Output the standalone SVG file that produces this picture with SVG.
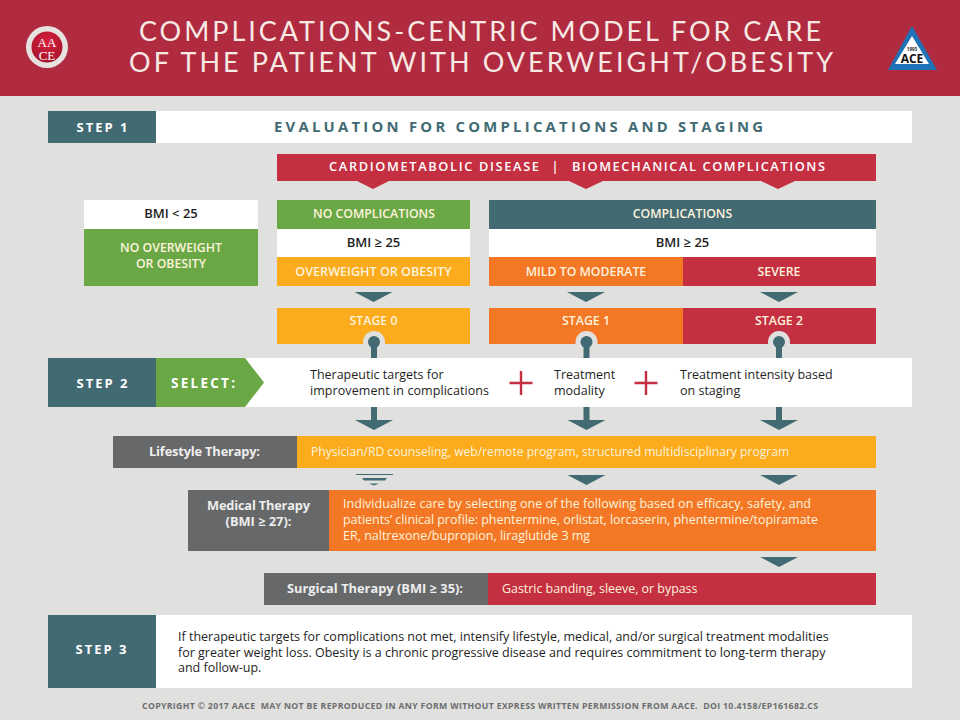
<svg xmlns="http://www.w3.org/2000/svg" width="960" height="720" viewBox="0 0 960 720">
<style>
text{font-family:"Open Sans","Noto Sans","Liberation Sans",sans-serif}
.w{fill:#fff}.teal{fill:#416a73}.green{fill:#6aa845}.amber{fill:#fbab1c}.orange{fill:#f47726}.red{fill:#c42f42}.gray{fill:#67686a}
.t{text-anchor:middle;font-size:12.300px;font-weight:600}
.lt{fill:#fdf3dc}
.k{fill:#1e1e1e;font-size:12.500px}
.step{fill:#fff;font-size:13px;font-weight:700;text-anchor:middle;letter-spacing:2px}
.title{font-family:Lato,"Open Sans",sans-serif;font-size:27px;fill:#f7e9e4;text-anchor:middle;font-weight:400}
.tg{fill:#eee;font-size:12.800px;font-weight:700}
.pre{white-space:pre}
</style>
<defs>
<polygon id="tri" points="-19,0 19,0 0,10" class="teal"/>
<radialGradient id="seal" cx="0.500" cy="0.350" r="0.700"><stop offset="0" stop-color="#d8203f"/><stop offset="1" stop-color="#a3142b"/></radialGradient>
</defs>
<rect width="960" height="720" fill="#e0e0de"/>
<g id="header">
<rect width="960" height="96" fill="#b02b40"/>
<text class="title" x="480" y="41" textLength="682" lengthAdjust="spacing">COMPLICATIONS-CENTRIC MODEL FOR CARE</text>
<text class="title" x="481" y="72" textLength="704" lengthAdjust="spacing">OF THE PATIENT WITH OVERWEIGHT/OBESITY</text>
</g>
<g id="aace-logo">
<circle cx="47" cy="47" r="21" fill="#e6e2df"/>
<circle cx="47" cy="47" r="15.500" fill="url(#seal)"/>
<text x="47" y="46.500" font-size="13" fill="#fff" text-anchor="middle" style="font-family:'Liberation Serif',serif">AA</text>
<text x="47" y="60" font-size="13" fill="#fff" text-anchor="middle" style="font-family:'Liberation Serif',serif">CE</text>
</g>
<g id="ace-logo">
<polygon points="912,26 937,70 888,70" fill="#1f72b6"/>
<polygon points="912,36 929,64 895,64" fill="#fff"/>
<text x="912" y="51" font-size="4.500" fill="#222" text-anchor="middle" font-weight="700">1993</text>
<text x="912" y="63" font-size="12" fill="#111" text-anchor="middle" font-weight="700">ACE</text>
</g>

<g id="step1">
<rect x="48" y="111" width="864" height="32" fill="#fff"/>
<rect x="48" y="111" width="108" height="32" class="teal"/>
<text class="step" x="103" y="132">STEP 1</text>
<text x="518.500" y="132" font-size="14.800" font-weight="700" fill="#416a73" text-anchor="middle" textLength="489">EVALUATION FOR COMPLICATIONS AND STAGING</text>
</g>
<g id="banner">
<polygon class="red" points="277,154 876,154 876,181 795,181 778,189 761,181 603,181 586,189 569,181 389,181 373,189 357,181 277,181"/>
<text x="329" y="171" font-size="12.800" font-weight="600" fill="#fff" textLength="210">CARDIOMETABOLIC DISEASE</text>
<text x="555" y="171" font-size="12.800" font-weight="600" fill="#fff" text-anchor="middle">|</text>
<text x="572" y="171" font-size="12.800" font-weight="600" fill="#fff" textLength="253">BIOMECHANICAL COMPLICATIONS</text>
</g>
<g id="bmi-lt-25">
<rect x="84" y="200" width="174" height="29" fill="#fff"/>
<text class="t" x="171" y="218" fill="#1e1e1e" style="font-size:13px">BMI &lt; 25</text>
<rect x="84" y="229" width="174" height="57" class="green"/>
<text class="t lt" x="171" y="252">NO OVERWEIGHT</text>
<text class="t lt" x="171" y="268">OR OBESITY</text>
</g>
<g id="no-complications">
<rect x="277" y="200" width="193" height="29" class="green"/>
<text class="t lt" x="374" y="218">NO COMPLICATIONS</text>
<rect x="277" y="229" width="193" height="28" fill="#fff"/>
<text class="t" x="373.500" y="247" fill="#1e1e1e" style="font-size:13px">BMI ≥ 25</text>
<rect x="277" y="257" width="193" height="29" class="amber"/>
<text class="t lt" x="373.500" y="276" style="font-size:12.600px">OVERWEIGHT OR OBESITY</text>
</g>
<g id="complications">
<rect x="489" y="200" width="387" height="29" class="teal"/>
<text class="t lt" x="682.500" y="218">COMPLICATIONS</text>
<rect x="489" y="229" width="387" height="28" fill="#fff"/>
<text class="t" x="682.500" y="247" fill="#1e1e1e" style="font-size:13px">BMI ≥ 25</text>
</g>
<g id="mild"><rect x="489" y="257" width="194" height="29" class="orange"/><text class="t lt" x="586" y="276">MILD TO MODERATE</text></g>
<g id="severe"><rect x="683" y="257" width="193" height="29" class="red"/><text class="t lt" x="779" y="276">SEVERE</text></g>
<g id="stage0"><rect x="277" y="308" width="193" height="36" class="amber"/><text class="t lt" x="373.500" y="325">STAGE 0</text></g>
<g id="stage1"><rect x="489" y="308" width="194" height="36" class="orange"/><text class="t lt" x="586" y="325">STAGE 1</text></g>
<g id="stage2"><rect x="683" y="308" width="193" height="36" class="red"/><text class="t lt" x="779" y="325">STAGE 2</text></g>

<g id="step2">
<rect x="48" y="358" width="864" height="49" fill="#fff"/>
<rect x="48" y="358" width="108" height="49" class="teal"/>
<text class="step" x="103" y="388">STEP 2</text>
<polygon class="green" points="156,358 245,358 264,382.500 245,407 156,407"/>
<text x="171" y="388" font-size="13.500" font-weight="700" fill="#fff" textLength="64">SELECT:</text>
<text class="k" x="310" y="379">Therapeutic targets for</text>
<text class="k" x="310" y="395" textLength="179">improvement in complications</text>
<text class="k" x="554" y="379">Treatment</text>
<text class="k" x="554" y="395">modality</text>
<text class="k" x="680" y="379">Treatment intensity based</text>
<text class="k" x="680" y="395">on staging</text>
<path d="M521 371v24M509.500 383h23M646 371v24M634.500 383h23" stroke="#c42f42" stroke-width="2.400" fill="none"/>
</g>
<g id="lifestyle">
<rect x="113" y="436" width="184" height="32" class="gray"/>
<text class="tg" x="204.500" y="456" text-anchor="middle" textLength="111">Lifestyle Therapy:</text>
<rect x="297" y="436" width="579" height="32" class="amber"/>
<text class="lt" x="311" y="456" font-size="12.100">Physician/RD counseling, web/remote program, structured multidisciplinary program</text>
</g>
<g id="medical">
<rect x="188" y="490" width="141" height="61" class="gray"/>
<text class="tg" x="258.500" y="510" text-anchor="middle" textLength="103">Medical Therapy</text>
<text class="tg" x="258.500" y="526" text-anchor="middle">(BMI ≥ 27):</text>
<rect x="329" y="490" width="547" height="61" class="orange"/>
<text class="lt" x="343" y="508" font-size="12.500" textLength="468">Individualize care by selecting one of the following based on efficacy, safety, and</text>
<text class="lt" x="343" y="524" font-size="12.500" textLength="475">patients’ clinical profile: phentermine, orlistat, lorcaserin, phentermine/topiramate</text>
<text class="lt" x="343" y="540" font-size="12.500">ER, naltrexone/bupropion, liraglutide 3 mg</text>
</g>
<g id="surgical">
<rect x="264" y="573" width="224" height="32" class="gray"/>
<text class="tg" x="375" y="593" text-anchor="middle" textLength="176">Surgical Therapy (BMI ≥ 35):</text>
<rect x="488" y="573" width="388" height="32" class="red"/>
<text class="lt" x="502" y="593" font-size="12.400">Gastric banding, sleeve, or bypass</text>
</g>
<g id="step3">
<rect x="48" y="615" width="864" height="73" fill="#fff"/>
<rect x="48" y="615" width="108" height="73" class="teal"/>
<text class="step" x="102" y="654">STEP 3</text>
<text class="k" x="178" y="641">If therapeutic targets for complications not met, intensify lifestyle, medical, and/or surgical treatment modalities</text>
<text class="k" x="178" y="656.500">for greater weight loss. Obesity is a chronic progressive disease and requires commitment to long-term therapy</text>
<text class="k" x="178" y="672">and follow-up.</text>
</g>
<g id="connectors">
<use href="#tri" x="373.500" y="292"/><use href="#tri" x="586" y="292"/><use href="#tri" x="779" y="292"/>
<g fill="#e0e0de"><circle cx="374" cy="342" r="11"/><circle cx="586.500" cy="342" r="11"/><circle cx="779" cy="342" r="11"/></g>
<g class="teal"><circle cx="374" cy="342" r="6"/><circle cx="586.500" cy="342" r="6"/><circle cx="779" cy="342" r="6"/>
<rect x="371" y="342" width="6" height="16"/><rect x="583.500" y="342" width="6" height="16"/><rect x="776" y="342" width="6" height="16"/></g>
<g class="teal"><rect x="371" y="407" width="6" height="13"/><rect x="583.500" y="407" width="6" height="13"/><rect x="776" y="407" width="6" height="13"/></g>
<use href="#tri" x="374" y="420"/><use href="#tri" x="586.500" y="420"/><use href="#tri" x="779" y="420"/>
<use href="#tri" x="586.500" y="475"/><use href="#tri" x="779" y="475"/><use href="#tri" x="779" y="557"/>
<g class="teal"><rect x="356" y="474" width="37" height="1"/><polygon points="362,478 387,478 385,480.500 364,480.500"/><polygon points="369,483.500 379,483.500 374,485.500"/></g>
</g>
<g id="footer"><text class="pre" x="480" y="709" font-size="8.700" font-weight="700" fill="#6d6e70" text-anchor="middle" textLength="676">COPYRIGHT © 2017 AACE  MAY NOT BE REPRODUCED IN ANY FORM WITHOUT EXPRESS WRITTEN PERMISSION FROM AACE.  DOI 10.4158/EP161682.CS</text></g>
</svg>
